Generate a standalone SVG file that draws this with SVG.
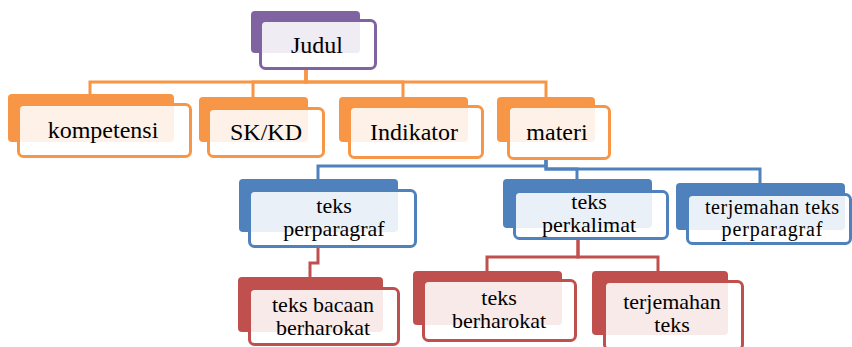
<svg xmlns="http://www.w3.org/2000/svg" width="852" height="347" viewBox="0 0 852 347">
<style>
.bk{stroke:none}
.fr{fill:#fff;fill-opacity:0.88;stroke-width:3}
.c{fill:none;stroke-width:3}
.t{font-size:22px;fill:#000;text-anchor:middle}
.pu .bk{fill:#8064A2}.pu .fr{stroke:#8064A2}
.or .bk{fill:#F79646}.or .fr{stroke:#F79646}
.bl .bk{fill:#4F81BD}.bl .fr{stroke:#4F81BD}
.rd .bk{fill:#C0504D}.rd .fr{stroke:#C0504D}
</style>
<rect width="852" height="347" fill="#fff"/>
<g id="connectors">
<g stroke="#F79646">
<path class="c" d="M306,70 V82 H90 V94"/>
<path class="c" d="M306,70 V82 H253 V97"/>
<path class="c" d="M306,70 V82 H403 V97"/>
<path class="c" d="M306,70 V82 H546 V97"/>
</g>
<g stroke="#4F81BD">
<path class="c" d="M546,158 V166 H318 V179"/>
<path class="c" d="M546,158 V169 H577 V179"/>
<path class="c" d="M546,158 V169 H760 V183"/>
</g>
<g stroke="#C0504D">
<path class="c" d="M318,247 V263 H310 V277"/>
<path class="c" d="M578,239 V257 H487 V271"/>
<path class="c" d="M578,239 V257 H658 V271"/>
</g>
</g>
<g font-family="Liberation Serif, Times New Roman, serif">
<g id="judul" class="pu">
<rect class="bk" x="251" y="11" width="109" height="42" rx="4"/>
<rect class="fr" x="260.5" y="20.5" width="115" height="48" rx="5"/>
<text class="t" x="317" y="53" style="font-size:24px">Judul</text>
</g>
<g id="kompetensi" class="or">
<rect class="bk" x="8" y="94" width="166" height="48" rx="4"/>
<rect class="fr" x="18.5" y="104.5" width="172" height="52" rx="5"/>
<text class="t" x="103" y="138" style="font-size:24px">kompetensi</text>
</g>
<g id="skkd" class="or">
<rect class="bk" x="199" y="97" width="109" height="45" rx="4"/>
<rect class="fr" x="208.5" y="108.5" width="115" height="48" rx="5"/>
<text class="t" x="266" y="140" style="font-size:24px">SK/KD</text>
</g>
<g id="indikator" class="or">
<rect class="bk" x="339" y="97" width="129" height="45" rx="4"/>
<rect class="fr" x="349.5" y="106.5" width="133" height="51" rx="5"/>
<text class="t" x="414" y="140" style="font-size:24px">Indikator</text>
</g>
<g id="materi" class="or">
<rect class="bk" x="497" y="97" width="98" height="45" rx="4"/>
<rect class="fr" x="508.5" y="106.5" width="101" height="52" rx="5"/>
<text class="t" x="557" y="140" style="font-size:24px">materi</text>
</g>
<g id="teks-perparagraf" class="bl">
<rect class="bk" x="239" y="179" width="159" height="53" rx="4"/>
<rect class="fr" x="249.5" y="190.5" width="166" height="56" rx="5"/>
<text class="t" x="334" y="213">teks</text>
<text class="t" x="334" y="236">perparagraf</text>
</g>
<g id="teks-perkalimat" class="bl">
<rect class="bk" x="503" y="179" width="149" height="49" rx="4"/>
<rect class="fr" x="514.5" y="191.5" width="153" height="47" rx="5"/>
<text class="t" x="589" y="209">teks</text>
<text class="t" x="589" y="232">perkalimat</text>
</g>
<g id="terjemahan-teks-perparagraf" class="bl">
<rect class="bk" x="676" y="183" width="169" height="47" rx="4"/>
<rect class="fr" x="687.5" y="194.5" width="163" height="49" rx="5"/>
<text class="t" x="772" y="214" style="font-size:20px" textLength="134" lengthAdjust="spacing">terjemahan teks</text>
<text class="t" x="772" y="236" style="font-size:20px" textLength="101" lengthAdjust="spacing">perparagraf</text>
</g>
<g id="teks-bacaan-berharokat" class="rd">
<rect class="bk" x="238" y="277" width="145" height="55" rx="4"/>
<rect class="fr" x="249.5" y="288.5" width="149" height="56" rx="5"/>
<text class="t" x="323" y="312">teks bacaan</text>
<text class="t" x="323" y="335">berharokat</text>
</g>
<g id="teks-berharokat" class="rd">
<rect class="bk" x="413" y="271" width="149" height="54" rx="4"/>
<rect class="fr" x="423.5" y="280.5" width="152" height="60" rx="5"/>
<text class="t" x="499" y="305">teks</text>
<text class="t" x="499" y="328">berharokat</text>
</g>
<g id="terjemahan-teks" class="rd">
<rect class="bk" x="592" y="271" width="136" height="64" rx="4"/>
<rect class="fr" x="604.5" y="281.5" width="138" height="68" rx="5"/>
<text class="t" x="672" y="309">terjemahan</text>
<text class="t" x="672" y="332">teks</text>
</g>
</g>
</svg>
